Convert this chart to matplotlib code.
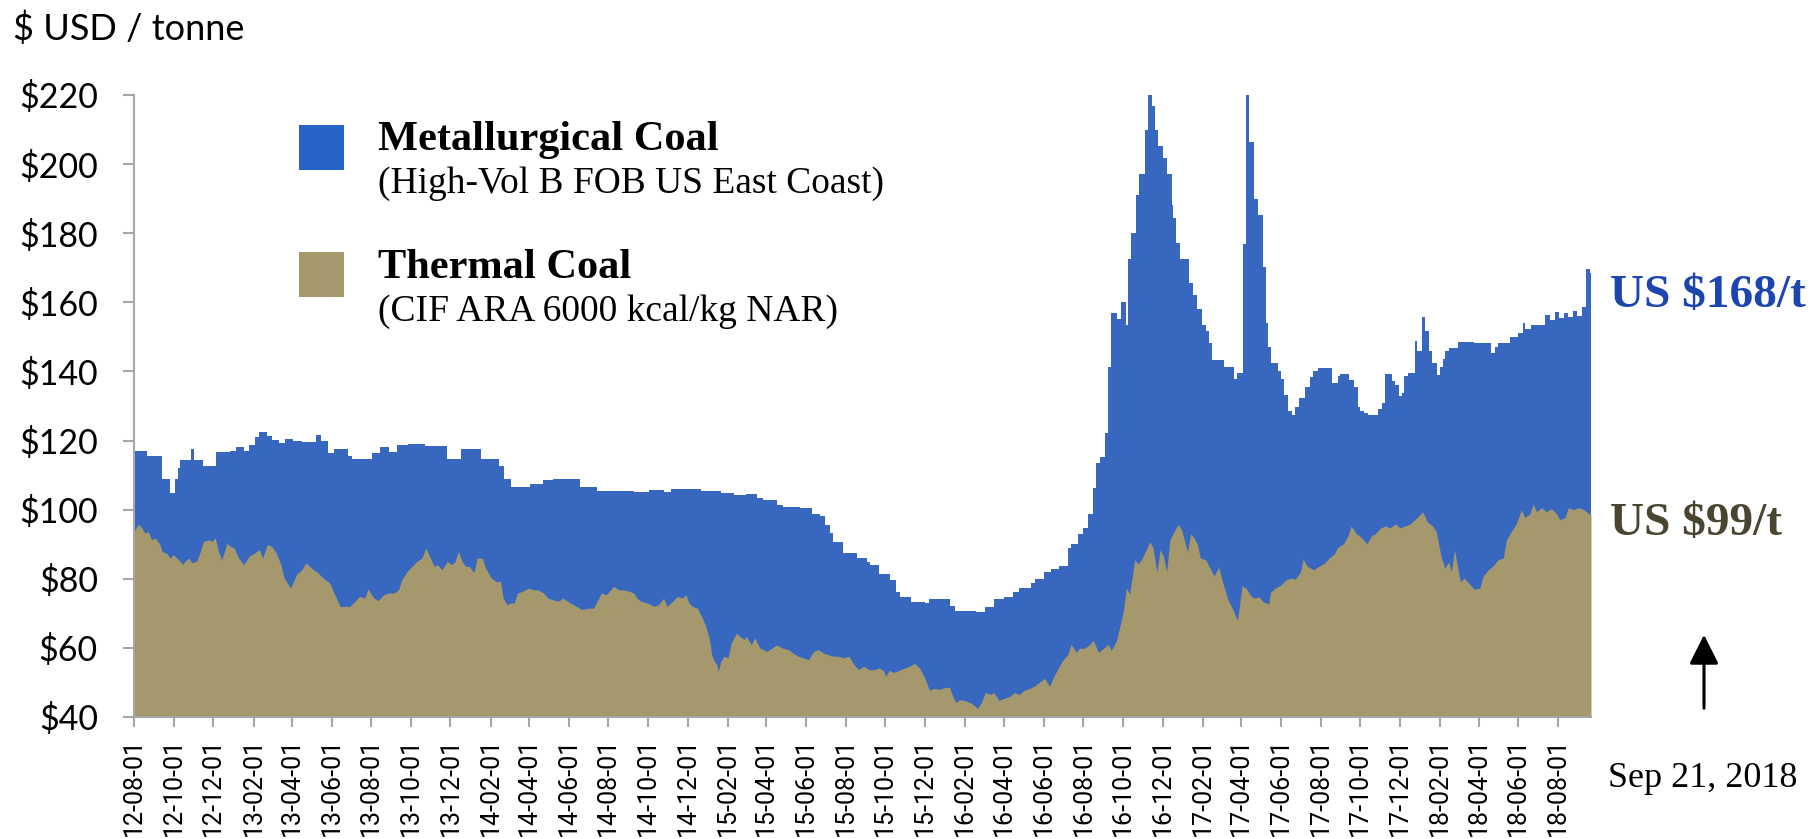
import numpy as np
import pandas as pd
import matplotlib
matplotlib.use('Agg')
import matplotlib.pyplot as plt
from matplotlib.patches import Rectangle, FancyArrowPatch

# High-Vol B FOB US East Coast (weekly assessments, drawn as steps)
met_dates = [
    '2012-08-01', '2012-08-21', '2012-09-13', '2012-09-26', '2012-10-03', '2012-10-07',
    '2012-10-11', '2012-10-28', '2012-11-02', '2012-11-15', '2012-12-05', '2012-12-27',
    '2013-01-05', '2013-01-17', '2013-01-25', '2013-02-03', '2013-02-10', '2013-02-21',
    '2013-03-01', '2013-03-12', '2013-03-21', '2013-04-03', '2013-04-16', '2013-05-08',
    '2013-05-16', '2013-05-27', '2013-06-05', '2013-06-26', '2013-07-03', '2013-08-02',
    '2013-08-15', '2013-08-28', '2013-09-09', '2013-09-26', '2013-10-23', '2013-11-25',
    '2013-12-17', '2014-01-17', '2014-02-14', '2014-02-22', '2014-03-04', '2014-04-02',
    '2014-04-23', '2014-05-08', '2014-06-18', '2014-07-14', '2014-09-10', '2014-10-02',
    '2014-10-25', '2014-11-05', '2014-12-21', '2015-01-21', '2015-02-11', '2015-03-01',
    '2015-03-17', '2015-03-27', '2015-04-17', '2015-04-27', '2015-05-23', '2015-06-10',
    '2015-06-23', '2015-07-01', '2015-07-08', '2015-07-13', '2015-07-28', '2015-08-18',
    '2015-09-03', '2015-09-08', '2015-09-21', '2015-10-09', '2015-10-17', '2015-10-24',
    '2015-11-09', '2015-12-01', '2015-12-07', '2016-01-08', '2016-01-16', '2016-02-18',
    '2016-03-03', '2016-03-16', '2016-04-01', '2016-04-14', '2016-04-24', '2016-05-12',
    '2016-05-19', '2016-06-02', '2016-06-12', '2016-06-25', '2016-07-08', '2016-07-13',
    '2016-07-23', '2016-07-31', '2016-08-08', '2016-08-16', '2016-08-21', '2016-08-26',
    '2016-09-03', '2016-09-08', '2016-09-13', '2016-09-21', '2016-09-28', '2016-10-06',
    '2016-10-08', '2016-10-13', '2016-10-21', '2016-10-26', '2016-11-04', '2016-11-09',
    '2016-11-14', '2016-11-19', '2016-11-24', '2016-12-02', '2016-12-07', '2016-12-15',
    '2016-12-17', '2016-12-22', '2016-12-28', '2017-01-10', '2017-01-17', '2017-01-23',
    '2017-01-31', '2017-02-05', '2017-02-10', '2017-02-15', '2017-03-06', '2017-03-21',
    '2017-03-26', '2017-04-03', '2017-04-08', '2017-04-13', '2017-04-21', '2017-04-27',
    '2017-05-04', '2017-05-09', '2017-05-12', '2017-05-17', '2017-05-27', '2017-06-01',
    '2017-06-06', '2017-06-11', '2017-06-18', '2017-06-22', '2017-06-29', '2017-07-08',
    '2017-07-15', '2017-07-20', '2017-07-28', '2017-08-18', '2017-08-27', '2017-08-31',
    '2017-09-14', '2017-09-21', '2017-09-27', '2017-10-01', '2017-10-06', '2017-10-13',
    '2017-10-29', '2017-11-03', '2017-11-08', '2017-11-19', '2017-11-24', '2017-11-29',
    '2017-12-04', '2017-12-08', '2017-12-14', '2017-12-24', '2017-12-28', '2018-01-04',
    '2018-01-08', '2018-01-14', '2018-01-19', '2018-01-27', '2018-01-31', '2018-02-05',
    '2018-02-09', '2018-02-14', '2018-03-01', '2018-03-25', '2018-04-20', '2018-04-26',
    '2018-05-01', '2018-05-19', '2018-06-01', '2018-06-09', '2018-06-11', '2018-06-21',
    '2018-07-12', '2018-07-20', '2018-07-27', '2018-08-03', '2018-08-10', '2018-08-17',
    '2018-08-24', '2018-08-31', '2018-09-07', '2018-09-13', '2018-09-20', '2018-09-21',
]
met_prices = [
    117.1, 115.6, 108.9, 104.8, 109.0, 112.0,
    114.5, 117.6, 114.5, 112.6, 116.7, 117.1,
    118.1, 117.1, 118.8, 120.9, 122.6, 121.2,
    120.2, 119.3, 120.5, 120.0, 119.5, 121.5,
    119.8, 116.4, 117.6, 115.4, 114.6, 116.4,
    118.1, 116.7, 118.6, 119.0, 118.5, 114.6,
    117.6, 114.6, 112.5, 108.9, 106.7, 107.4,
    108.5, 109.0, 106.5, 105.5, 105.0, 105.7,
    105.0, 106.0, 105.5, 104.8, 104.3, 104.6,
    103.4, 102.9, 101.4, 100.9, 100.5, 98.8,
    98.3, 95.6, 93.2, 90.5, 87.4, 86.0,
    85.0, 84.1, 81.4, 79.6, 76.2, 74.8,
    73.3, 72.9, 74.1, 72.1, 70.7, 70.3,
    71.7, 74.1, 74.8, 76.2, 77.3, 78.7,
    79.9, 82.0, 82.9, 83.7, 89.0, 90.1,
    93.0, 94.8, 98.8, 106.4, 113.4, 115.1,
    122.1, 141.2, 156.9, 155.2, 160.1, 153.5,
    172.6, 180.2, 191.2, 197.0, 209.8, 220.0,
    216.8, 209.8, 205.2, 201.7, 197.0, 188.3,
    184.3, 177.3, 172.6, 165.7, 162.2, 158.1,
    153.5, 151.7, 148.2, 143.3, 141.2, 137.8,
    139.5, 177.0, 220.0, 206.3, 190.0, 185.2,
    170.3, 154.0, 147.0, 142.4, 140.1, 137.8,
    133.1, 128.5, 127.3, 129.6, 132.2, 135.4,
    138.3, 140.1, 140.9, 136.6, 138.7, 139.2,
    137.5, 135.4, 129.6, 128.5, 127.9, 127.3,
    129.1, 130.8, 139.2, 137.2, 136.0, 132.9,
    133.7, 138.7, 139.5, 148.8, 145.9, 155.8,
    151.7, 145.9, 142.4, 138.9, 141.2, 143.6,
    145.9, 146.7, 148.5, 148.2, 145.3, 147.1,
    148.2, 150.0, 151.1, 154.0, 152.3, 153.5,
    156.4, 155.0, 157.2, 155.5, 157.0, 155.8,
    157.5, 156.0, 158.7, 169.7, 168.6, 168.0,
]

# CIF ARA 6000 kcal/kg NAR
thermal_dates = [
    '2012-08-01', '2012-08-08', '2012-08-13', '2012-08-18', '2012-08-23', '2012-08-28',
    '2012-09-03', '2012-09-10', '2012-09-13', '2012-09-20', '2012-09-26', '2012-09-30',
    '2012-10-06', '2012-10-11', '2012-10-15', '2012-10-18', '2012-10-24', '2012-10-29',
    '2012-11-06', '2012-11-11', '2012-11-16', '2012-11-24', '2012-11-29', '2012-12-04',
    '2012-12-09', '2012-12-14', '2012-12-22', '2012-12-27', '2013-01-02', '2013-01-09',
    '2013-01-17', '2013-01-25', '2013-02-02', '2013-02-10', '2013-02-15', '2013-02-22',
    '2013-03-01', '2013-03-08', '2013-03-15', '2013-03-20', '2013-03-30', '2013-04-08',
    '2013-04-16', '2013-04-23', '2013-05-01', '2013-05-11', '2013-05-19', '2013-05-29',
    '2013-06-06', '2013-06-14', '2013-06-21', '2013-06-29', '2013-07-07', '2013-07-14',
    '2013-07-22', '2013-07-27', '2013-08-05', '2013-08-12', '2013-08-20', '2013-08-28',
    '2013-09-05', '2013-09-12', '2013-09-17', '2013-09-25', '2013-10-03', '2013-10-10',
    '2013-10-18', '2013-10-24', '2013-10-31', '2013-11-06', '2013-11-11', '2013-11-18',
    '2013-11-26', '2013-12-03', '2013-12-08', '2013-12-13', '2013-12-19', '2013-12-24',
    '2013-12-30', '2014-01-06', '2014-01-11', '2014-01-19', '2014-01-24', '2014-02-02',
    '2014-02-09', '2014-02-16', '2014-02-20', '2014-02-26', '2014-03-04', '2014-03-09',
    '2014-03-14', '2014-03-22', '2014-03-31', '2014-04-07', '2014-04-15', '2014-04-23',
    '2014-04-30', '2014-05-08', '2014-05-16', '2014-05-23', '2014-06-03', '2014-06-13',
    '2014-06-21', '2014-07-01', '2014-07-09', '2014-07-16', '2014-07-21', '2014-07-29',
    '2014-08-09', '2014-08-17', '2014-08-24', '2014-09-02', '2014-09-09', '2014-09-14',
    '2014-09-20', '2014-09-30', '2014-10-10', '2014-10-17', '2014-10-25', '2014-10-30',
    '2014-11-08', '2014-11-15', '2014-11-23', '2014-11-28', '2014-12-03', '2014-12-08',
    '2014-12-16', '2014-12-21', '2014-12-28', '2015-01-03', '2015-01-07', '2015-01-11',
    '2015-01-15', '2015-01-17', '2015-01-21', '2015-01-26', '2015-02-01', '2015-02-06',
    '2015-02-14', '2015-02-19', '2015-02-26', '2015-03-01', '2015-03-09', '2015-03-14',
    '2015-03-22', '2015-04-02', '2015-04-10', '2015-04-17', '2015-04-25', '2015-05-05',
    '2015-05-12', '2015-05-20', '2015-05-28', '2015-06-05', '2015-06-13', '2015-06-20',
    '2015-06-28', '2015-07-06', '2015-07-13', '2015-07-21', '2015-07-28', '2015-08-06',
    '2015-08-14', '2015-08-21', '2015-08-29', '2015-09-06', '2015-09-14', '2015-09-21',
    '2015-09-28', '2015-10-02', '2015-10-07', '2015-10-14', '2015-10-22', '2015-10-30',
    '2015-11-07', '2015-11-15', '2015-11-23', '2015-12-01', '2015-12-08', '2015-12-15',
    '2015-12-23', '2015-12-31', '2016-01-08', '2016-01-13', '2016-01-18', '2016-01-23',
    '2016-01-31', '2016-02-08', '2016-02-13', '2016-02-20', '2016-02-26', '2016-03-03',
    '2016-03-11', '2016-03-16', '2016-03-24', '2016-04-01', '2016-04-09', '2016-04-17',
    '2016-04-24', '2016-05-02', '2016-05-10', '2016-05-17', '2016-05-25', '2016-06-02',
    '2016-06-10', '2016-06-15', '2016-06-23', '2016-06-30', '2016-07-08', '2016-07-13',
    '2016-07-21', '2016-07-26', '2016-08-03', '2016-08-11', '2016-08-16', '2016-08-24',
    '2016-09-01', '2016-09-08', '2016-09-13', '2016-09-21', '2016-09-26', '2016-10-01',
    '2016-10-06', '2016-10-11', '2016-10-19', '2016-10-24', '2016-10-29', '2016-11-04',
    '2016-11-11', '2016-11-16', '2016-11-22', '2016-11-27', '2016-12-02', '2016-12-07',
    '2016-12-12', '2016-12-20', '2016-12-25', '2016-12-30', '2017-01-08', '2017-01-13',
    '2017-01-18', '2017-01-23', '2017-01-28', '2017-02-05', '2017-02-13', '2017-02-18',
    '2017-02-25', '2017-03-03', '2017-03-11', '2017-03-18', '2017-03-26', '2017-04-02',
    '2017-04-08', '2017-04-16', '2017-04-20', '2017-04-28', '2017-05-05', '2017-05-13',
    '2017-05-16', '2017-05-23', '2017-06-01', '2017-06-08', '2017-06-16', '2017-06-23',
    '2017-07-01', '2017-07-05', '2017-07-11', '2017-07-21', '2017-07-30', '2017-08-07',
    '2017-08-14', '2017-08-22', '2017-08-27', '2017-09-05', '2017-09-12', '2017-09-17',
    '2017-09-25', '2017-09-30', '2017-10-06', '2017-10-11', '2017-10-18', '2017-10-24',
    '2017-11-01', '2017-11-09', '2017-11-16', '2017-11-24', '2017-12-01', '2017-12-09',
    '2017-12-17', '2017-12-24', '2017-12-30', '2018-01-05', '2018-01-12', '2018-01-20',
    '2018-01-26', '2018-02-02', '2018-02-08', '2018-02-14', '2018-02-18', '2018-02-23',
    '2018-03-01', '2018-03-04', '2018-03-10', '2018-03-18', '2018-03-25', '2018-04-03',
    '2018-04-08', '2018-04-16', '2018-04-23', '2018-05-01', '2018-05-09', '2018-05-14',
    '2018-05-21', '2018-05-29', '2018-06-06', '2018-06-11', '2018-06-19', '2018-06-24',
    '2018-06-29', '2018-07-07', '2018-07-14', '2018-07-22', '2018-07-30', '2018-08-04',
    '2018-08-12', '2018-08-17', '2018-08-25', '2018-09-02', '2018-09-10', '2018-09-18',
    '2018-09-21',
]
thermal_prices = [
    93.9, 95.8, 94.7, 93.2, 93.7, 91.3,
    91.8, 89.9, 87.9, 87.4, 86.0, 87.0,
    86.0, 85.0, 84.1, 85.0, 86.0, 84.6,
    85.2, 87.9, 90.8, 91.3, 90.8, 91.8,
    87.9, 85.5, 90.3, 89.4, 88.9, 86.0,
    84.1, 86.5, 87.4, 88.4, 86.0, 89.9,
    89.4, 87.4, 84.1, 80.2, 77.3, 81.2,
    82.6, 84.6, 83.1, 81.7, 80.2, 78.8,
    75.4, 72.0, 72.0, 72.0, 73.5, 74.9,
    74.4, 77.1, 74.4, 73.7, 75.4, 75.9,
    75.9, 76.8, 79.7, 82.1, 83.6, 85.0,
    86.0, 88.9, 86.0, 83.6, 84.1, 82.6,
    85.0, 84.1, 85.0, 87.9, 85.0, 83.6,
    83.6, 81.7, 86.0, 86.0, 83.1, 80.2,
    79.2, 79.2, 74.4, 72.5, 73.0, 73.0,
    75.9, 76.4, 77.3, 76.8, 76.8, 75.9,
    74.4, 73.9, 73.5, 74.4, 73.0, 72.0,
    71.1, 71.5, 71.5, 73.9, 75.9, 75.4,
    77.8, 76.8, 76.8, 76.4, 75.9, 74.4,
    73.5, 73.0, 72.0, 72.5, 74.4, 72.0,
    73.5, 74.9, 74.4, 75.4, 73.0, 72.0,
    71.5, 69.6, 66.7, 62.9, 58.0, 56.1,
    55.1, 53.2, 56.1, 57.6, 57.1, 61.4,
    64.3, 63.4, 62.4, 63.4, 60.9, 62.9,
    60.0, 59.0, 60.0, 60.9, 60.0, 59.5,
    58.5, 57.6, 57.1, 56.6, 59.0, 59.5,
    58.5, 58.0, 57.6, 57.6, 57.1, 57.6,
    55.1, 53.7, 54.7, 53.7, 53.7, 54.2,
    53.5, 51.8, 53.5, 52.9, 53.5, 54.1,
    54.7, 55.5, 54.1, 51.2, 47.7, 48.3,
    48.0, 48.5, 48.6, 45.9, 44.2, 45.0,
    44.8, 44.2, 43.6, 42.5, 44.2, 47.1,
    46.5, 47.1, 44.8, 45.4, 45.9, 47.1,
    46.5, 47.7, 48.3, 48.9, 50.0, 51.2,
    48.9, 51.2, 54.1, 56.4, 58.1, 61.0,
    58.7, 59.9, 59.9, 61.0, 62.2, 58.7,
    59.9, 61.0, 59.3, 62.2, 66.3, 70.3,
    77.3, 75.6, 85.5, 84.3, 85.5, 87.8,
    90.7, 89.0, 82.0, 88.4, 86.6, 82.0,
    91.3, 94.2, 95.7, 94.2, 87.8, 93.0,
    91.9, 90.1, 86.0, 85.5, 82.6, 80.8,
    83.4, 79.1, 74.1, 71.5, 68.0, 77.9,
    77.3, 75.0, 74.4, 74.8, 73.3, 72.7,
    76.1, 77.3, 78.2, 79.6, 80.2, 79.9,
    82.0, 85.7, 83.7, 82.6, 83.7, 84.5,
    86.0, 87.2, 89.0, 90.1, 92.4, 95.3,
    93.0, 92.4, 91.3, 90.1, 92.4, 93.0,
    94.7, 95.3, 94.7, 95.9, 94.7, 95.3,
    95.9, 97.1, 98.2, 99.4, 96.5, 95.3,
    93.6, 86.6, 83.1, 84.9, 82.0, 88.4,
    82.0, 79.1, 80.2, 78.5, 77.0, 77.3,
    80.8, 82.6, 83.7, 85.5, 86.0, 91.3,
    93.6, 95.9, 100.0, 97.7, 98.8, 101.7,
    99.4, 100.6, 99.4, 100.3, 98.8, 97.1,
    97.7, 100.6, 100.0, 100.6, 100.0, 98.8,
    98.8,
]

tick_dates = pd.date_range('2012-08-01', '2018-08-01', freq='2MS')
tick_labels = [d.strftime('%y-%m-%d') for d in tick_dates]
y_ticks = [40, 60, 80, 100, 120, 140, 160, 180, 200, 220]

met_color = '#3767bf'
thermal_color = '#a4986c'
axis_grey = '#a6a6a6'

W, H = 1819, 839
fig = plt.figure(figsize=(W / 100, H / 100), dpi=100, facecolor='white')
ax = fig.add_axes([134 / W, 1 - 717 / H, (1591 - 134) / W, (717 - 95) / H])

met_x = pd.to_datetime(met_dates)
th_x = pd.to_datetime(thermal_dates)
ax.fill_between(met_x, met_prices, 0, step='post', color=met_color, lw=0, zorder=1)
ax.fill_between(th_x, thermal_prices, 0, color=thermal_color, lw=0, zorder=2)

ax.set_xlim(pd.Timestamp('2012-08-01'), pd.Timestamp('2018-09-21'))
ax.set_ylim(40, 220)

ax.set_xticks(tick_dates)
ax.set_xticklabels(tick_labels, rotation=90, va='top', ha='center',
                   family=['Roboto', 'DejaVu Sans'], fontsize=18)
ax.set_yticks(y_ticks)
ax.set_yticklabels([f'${v}' for v in y_ticks], family=['Lato', 'DejaVu Sans'], fontsize=24.5)

for side in ['top', 'right']:
    ax.spines[side].set_visible(False)
for side in ['left', 'bottom']:
    ax.spines[side].set_color(axis_grey)
    ax.spines[side].set_linewidth(1.5)
ax.tick_params(axis='x', colors=axis_grey, length=7, width=1.5, pad=8, labelcolor='black')
ax.tick_params(axis='y', colors=axis_grey, length=8, width=1.5, pad=18, labelcolor='black')

# axis unit label
fig.text(13 / W, 1 - 40 / H, '$ USD / tonne', family=['Lato', 'DejaVu Sans'],
         fontsize=26, ha='left', va='baseline')

# legend drawn by hand
serif = ['Liberation Serif', 'DejaVu Serif']
for top, col in [(125, '#2663c6'), (252, thermal_color)]:
    fig.patches.append(Rectangle((299 / W, 1 - (top + 45) / H), 45 / W, 45 / H,
                                 transform=fig.transFigure, color=col, lw=0))
fig.text(378 / W, 1 - 150 / H, 'Metallurgical Coal', family=serif, weight='bold',
         fontsize=30.5, va='baseline')
fig.text(378 / W, 1 - 193 / H, '(High-Vol B FOB US East Coast)', family=serif,
         fontsize=27, va='baseline')
fig.text(378 / W, 1 - 278 / H, 'Thermal Coal', family=serif, weight='bold',
         fontsize=30.5, va='baseline')
fig.text(378 / W, 1 - 321 / H, '(CIF ARA 6000 kcal/kg NAR)', family=serif,
         fontsize=27, va='baseline')

# end-of-series labels
fig.text(1610 / W, 1 - 307 / H, 'US $168/t', family=serif, weight='bold',
         fontsize=34, color='#1c46ad', va='baseline')
fig.text(1610 / W, 1 - 535 / H, 'US $99/t', family=serif, weight='bold',
         fontsize=34, color='#4a4530', va='baseline')

# date marker
fig.text(1703 / W, 1 - 787 / H, 'Sep 21, 2018', family=serif, fontsize=26,
         ha='center', va='baseline')
fig.patches.append(FancyArrowPatch(
    (1704 / W, 1 - 711 / H), (1704 / W, 1 - 632 / H), transform=fig.transFigure,
    arrowstyle='-|>,head_length=0.9,head_width=0.45', mutation_scale=20,
    color='black', lw=2.2))

fig.savefig('out.png', dpi=100, facecolor='white')
